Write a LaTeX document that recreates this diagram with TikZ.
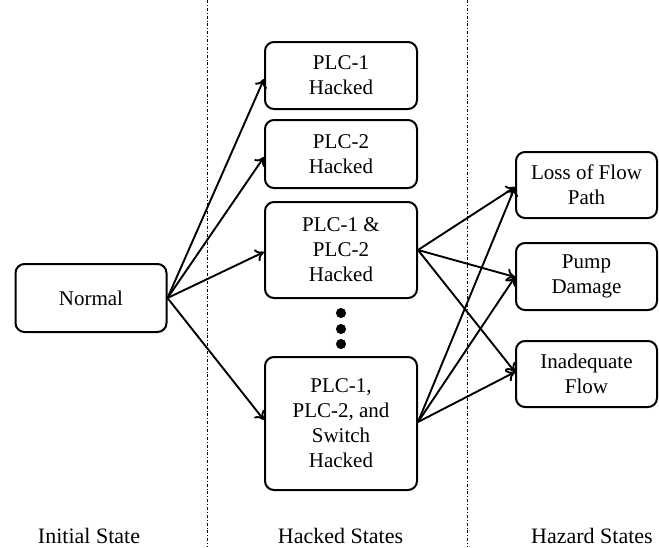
\documentclass[tikz,border=0pt]{standalone}
\usepackage{fontspec}
\setmainfont{Liberation Serif}
\usetikzlibrary{arrows.meta}

\tikzset{
  statebox/.style={draw, line width=2pt, rounded corners=9pt, align=center,
    font=\fontsize{21}{25}\selectfont, inner sep=0pt},
  hackbox/.style={statebox, minimum width=152pt},
  hazbox/.style={statebox, minimum width=141pt},
  trans/.style={-{To[length=8.5pt,width=13pt]}, line width=1.9pt},
  divider/.style={line width=0.6pt, dash pattern=on 3pt off 2pt on 0.8pt off 2pt},
  columnlabel/.style={anchor=base, inner sep=0pt, font=\fontsize{22}{25}\selectfont}
}

\begin{document}
\begin{tikzpicture}[x=1pt, y=-1pt]
            \useasboundingbox (0,0) rectangle (659,547);

            \draw[divider] (207,0) -- (207,547);
            \draw[divider] (467,0) -- (467,547);

            \node[statebox, minimum width=151pt, minimum height=68pt] (normal) at (91,298) {Normal};

            \node[hackbox, minimum height=67pt] (plcone) at (341,75.5) {PLC-1\\Hacked};
            \node[hackbox, minimum height=68pt] (plctwo) at (341,154) {PLC-2\\Hacked};
            \node[hackbox, minimum height=96pt] (plcboth) at (341,250) {PLC-1 \&\\PLC-2\\Hacked};
            \node[hackbox, minimum height=133pt] (plcall) at (341,423.5) {PLC-1,\\PLC-2, and\\Switch\\Hacked};

            \filldraw[black] (341,313) circle (4.8pt);
            \filldraw[black] (341,329) circle (4.8pt);
            \filldraw[black] (341,344) circle (4.8pt);

            \node[hazbox, minimum height=66pt] (lossflow) at (586.5,185) {Loss of Flow\\Path};
            \node[hazbox, minimum height=67pt] (pump) at (586.5,276.5) {Pump\\Damage};
            \node[hazbox, minimum height=66pt] (inadequate) at (586.5,374) {Inadequate\\Flow};

            \draw[trans] (normal.east) -- (plcone.west |- 0,79);
            \draw[trans] (normal.east) -- (plctwo.west |- 0,157);
            \draw[trans] (normal.east) -- (plcboth.west |- 0,252);
            \draw[trans] (normal.east) -- (plcall.west |- 0,420);

            \draw[trans] (plcboth.east) -- (lossflow.west |- 0,187);
            \draw[trans] (plcboth.east) -- (pump.west |- 0,277);
            \draw[trans] (plcboth.east) -- (inadequate.west |- 0,372);
            \draw[trans] (plcall.east |- 0,422) -- (lossflow.west |- 0,187);
            \draw[trans] (plcall.east |- 0,422) -- (pump.west |- 0,277);
            \draw[trans] (plcall.east |- 0,422) -- (inadequate.west |- 0,372);

            \node[columnlabel] (initlabel) at (89,543) {Initial State};
            \node[columnlabel] (hacklabel) at (340.5,543) {Hacked States};
            \node[columnlabel] (hazlabel) at (592,543) {Hazard States};
        \end{tikzpicture}
\end{document}
